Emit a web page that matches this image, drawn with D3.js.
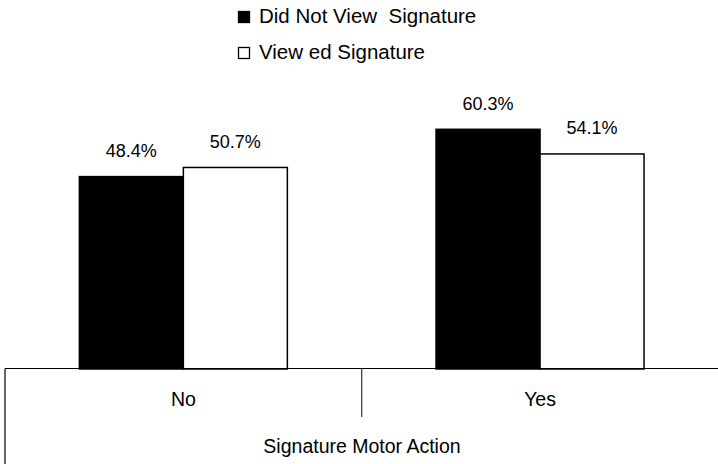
<!DOCTYPE html>
<html><head><meta charset="utf-8">
<script src="https://cdn.jsdelivr.net/npm/d3@7"></script>
<style>body{margin:0;background:#fff}svg{display:block;font-family:"Liberation Sans",Arial,sans-serif}</style>
</head><body>
<svg id="c" width="718" height="464"></svg>
<script>
const categories = ["No", "Yes"];
const seriesNames = ["Did Not View  Signature", "View ed Signature"];
const didNotView = [48.4, 60.3];
const viewed = [50.7, 54.1];
const valueLabels = [["48.4%", "50.7%"], ["60.3%", "54.1%"]];
const axisTitle = "Signature Motor Action";

const svg = d3.select("#c");
const left = 5, right = 718.4, base = 369;
const x0 = d3.scaleBand().domain(categories).range([left, right]).paddingInner(0).paddingOuter(0);
const x1 = d3.scaleBand().domain([0, 1]).range([0, x0.bandwidth()]).paddingOuter(0.715).paddingInner(0);
const y = d3.scaleLinear().domain([0, 90]).range([base, base - 90 * 3.975]);

const data = categories.map((c, i) => ({c, vals: [didNotView[i], viewed[i]], labels: valueLabels[i]}));
const fills = ["#000", "#fff"];

const g = svg.append("g");
data.forEach(d => {
  const gg = g.append("g").attr("transform", `translate(${x0(d.c)},0)`);
  d.vals.forEach((v, j) => {
    gg.append("rect").attr("x", x1(j)).attr("y", y(v)).attr("width", x1.bandwidth()).attr("height", base - y(v))
      .attr("fill", fills[j]).attr("stroke", "#000").attr("stroke-width", 1.5);
    gg.append("text").attr("x", x1(j) + x1.bandwidth() / 2).attr("y", y(v) - 19.5)
      .attr("text-anchor", "middle").attr("font-size", 18).text(d.labels[j]);
  });
});

// axis lines
svg.append("line").attr("x1", left).attr("x2", 718).attr("y1", base - 0.5).attr("y2", base - 0.5).attr("stroke", "#000").attr("stroke-width", 1.2);
svg.append("line").attr("x1", left).attr("x2", left).attr("y1", base - 0.5).attr("y2", 464).attr("stroke", "#333").attr("stroke-width", 1.5);
svg.append("line").attr("x1", x0("Yes")).attr("x2", x0("Yes")).attr("y1", base - 0.5).attr("y2", 417).attr("stroke", "#333").attr("stroke-width", 1.2);

categories.forEach(c => {
  svg.append("text").attr("x", x0(c) + x0.bandwidth() / 2).attr("y", 406).attr("text-anchor", "middle")
    .attr("font-size", 19.5).text(c);
});
svg.append("text").attr("x", 362).attr("y", 453).attr("text-anchor", "middle").attr("font-size", 19.5).text(axisTitle);

// legend
const leg = svg.append("g");
seriesNames.forEach((s, i) => {
  const yy = 11 + i * 36;
  leg.append("rect").attr("x", 238.5).attr("y", yy + 0.5).attr("width", 11).attr("height", 11)
    .attr("fill", fills[i]).attr("stroke", "#000").attr("stroke-width", 1.3);
  leg.append("text").attr("x", 259).attr("y", yy + 11.5).attr("font-size", 20.5)
    .style("white-space", "pre").text(s);
});
</script>
</body></html>
